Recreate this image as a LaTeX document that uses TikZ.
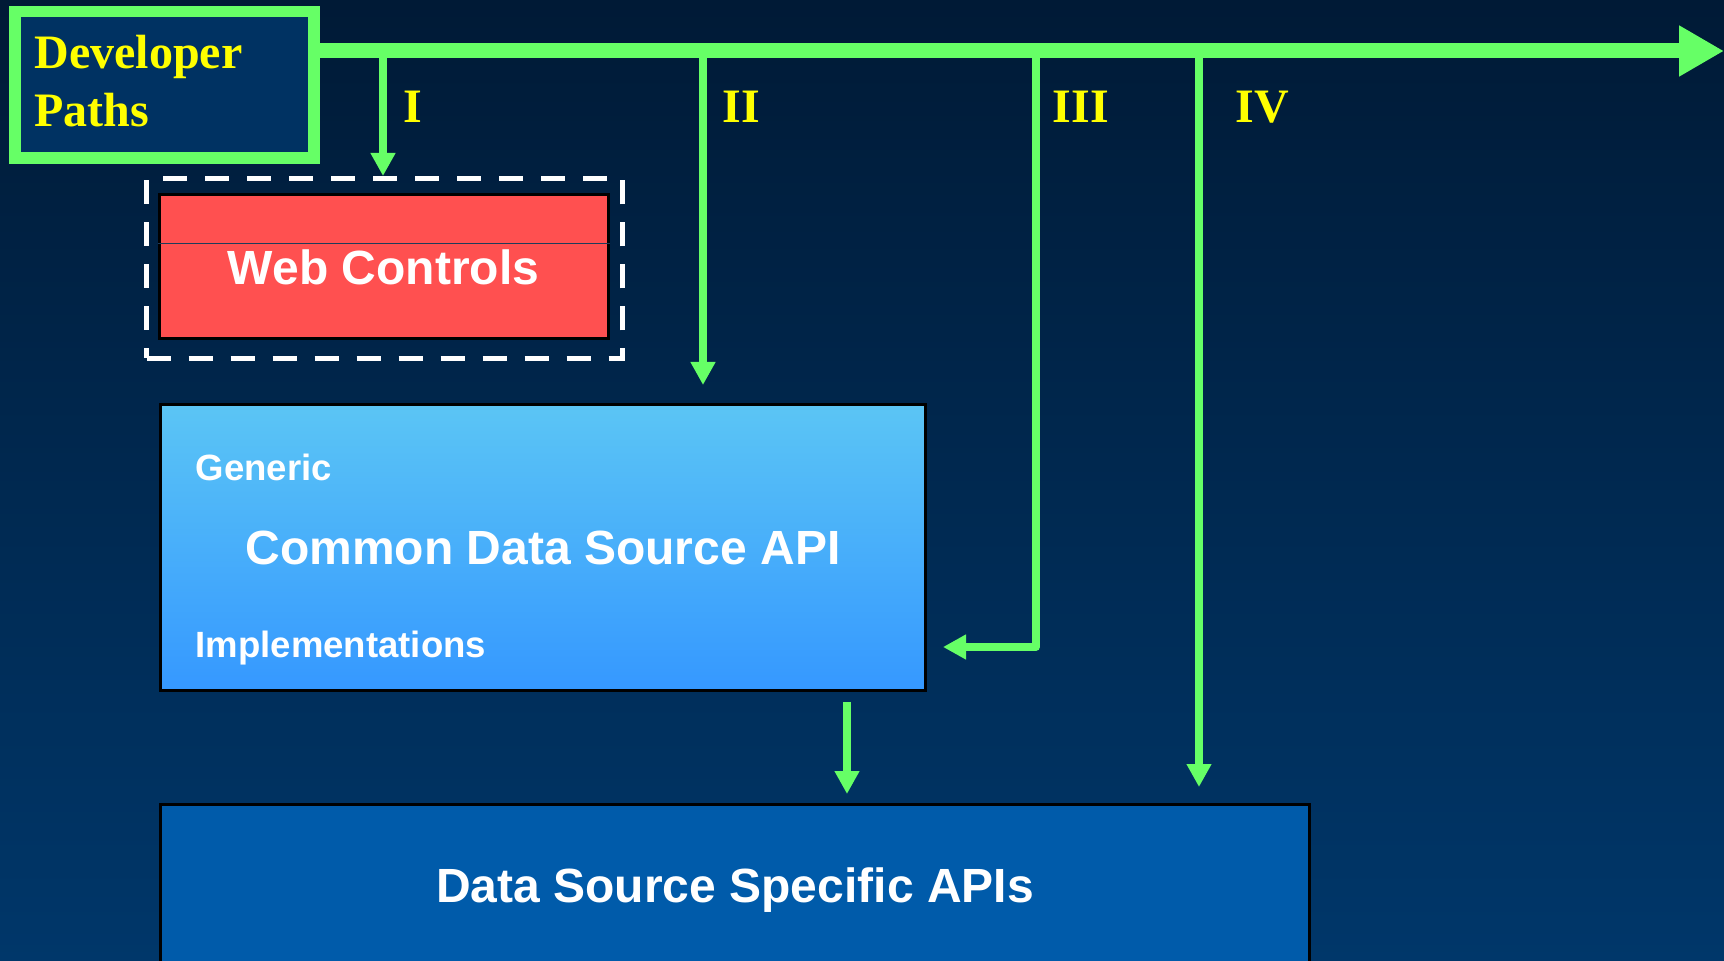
\documentclass[tikz,border=0pt]{standalone}
\usepackage{fontspec}
\setmainfont{Liberation Sans}
\newfontfamily\serifbf{Liberation Serif}
\usetikzlibrary{positioning,arrows.meta,calc}
\definecolor{bgtop}{HTML}{001A36}
\definecolor{bgbot}{HTML}{00376A}
\definecolor{pathgreen}{HTML}{66FF66}
\definecolor{pathyellow}{HTML}{FFFF00}
\definecolor{devfill}{HTML}{003262}
\definecolor{webred}{HTML}{FF5050}
\definecolor{webrule}{HTML}{1E3C5A}
\definecolor{cdstop}{HTML}{5BC5F5}
\definecolor{cdsbot}{HTML}{3598FF}
\definecolor{dssfill}{HTML}{005BAA}
\tikzset{
  dp/.style={align=center, inner sep=0pt, text=white, font=\fontsize{13.66}{16.5}\selectfont\bfseries},
  dp title/.style={draw=pathgreen, line width=1.15mm, fill=devfill, text=pathyellow, inner sep=0pt,
                   font=\serifbf\fontsize{13.66}{16.5}\selectfont\bfseries, align=left, text width=26mm,
                   minimum width=29.9mm, minimum height=14.65mm, text depth=6.7mm},
  dp num/.style={text=pathyellow, font=\serifbf\fontsize{13.66}{16.5}\selectfont\bfseries, inner sep=0pt, anchor=base west},
  dp layer/.style={dp, draw=black, line width=0.3mm, text depth=0pt},
  dp sub/.style={text=white, font=\fontsize{10.4}{12}\selectfont\bfseries, inner sep=0pt, anchor=base west},
  dp trunk/.style={pathgreen, line width=1.5mm, -{Triangle[length=4.5mm, width=4.8mm]}},
  dp arr/.style={pathgreen, line width=0.75mm, line join=round, -{Triangle[length=2.3mm, width=2.35mm]}},
  dp frame/.style={draw=white, line width=0.5mm, dash pattern=on 2.4mm off 1.8mm, inner sep=0pt},
}
\begin{document}
\begin{tikzpicture}[x=0.1mm, y=-0.1mm]
  \useasboundingbox (0,0) rectangle (1724,961);
  \shade[top color=bgtop, bottom color=bgbot] (0,0) rectangle (1724,961);
  \clip (0,0) rectangle (1724,961);
  % boxes
  \node[dp title] (devpaths) at (164.5,85) {Developer\\Paths};
  \node[dp layer, fill=webred, minimum width=44.9mm, minimum height=14.4mm] (webctl) at (383.5,267) {Web Controls};
  \draw[webrule, line width=0.1mm] ([yshift=-5.05mm]webctl.north west) -- ([yshift=-5.05mm]webctl.north east);
  \node[dp frame, minimum width=47.6mm, minimum height=18mm] (webframe) at (384.5,268.5) {};
  \node[dp layer, top color=cdstop, bottom color=cdsbot, minimum width=76.5mm, minimum height=28.6mm] (cdsapi) at (543,547.5) {Common Data Source API};
  \node[dp sub] (generic) at (195,481) {Generic};
  \node[dp sub] (impl) at (195,657) {Implementations};
  \node[dp layer, fill=dssfill, minimum width=114.9mm, minimum height=16.1mm] (dssapi) at (735,885) {Data Source Specific APIs};
  % paths
  \coordinate (trunkend) at (1724,51);
  \draw[dp trunk] (devpaths.east |- trunkend) -- (trunkend);
  \foreach \n/\x in {I/383, II/703, III/1036, IV/1199} \coordinate (br\n) at (\x,51);
  \draw[dp arr] (brI) -- (brI |- webframe.north);
  \draw[dp arr, shorten >=1.8mm] (brII) -- (brII |- cdsapi.north);
  \draw[dp arr, shorten >=1.6mm] (brIII) |- ([yshift=4.5mm]cdsapi.south east);
  \draw[dp arr, shorten >=1.6mm] (brIV) -- (brIV |- dssapi.north);
  \coordinate (feed) at ([xshift=30.4mm]cdsapi.south);
  \draw[dp arr, shorten <=1mm, shorten >=0.9mm] (feed) -- (feed |- dssapi.north);
  \node[dp num] (numI) at (403,123) {I};
  \node[dp num] (numII) at (722,123) {II};
  \node[dp num] (numIII) at (1052,123) {III};
  \node[dp num] (numIV) at (1235,123) {IV};
\end{tikzpicture}
\end{document}
